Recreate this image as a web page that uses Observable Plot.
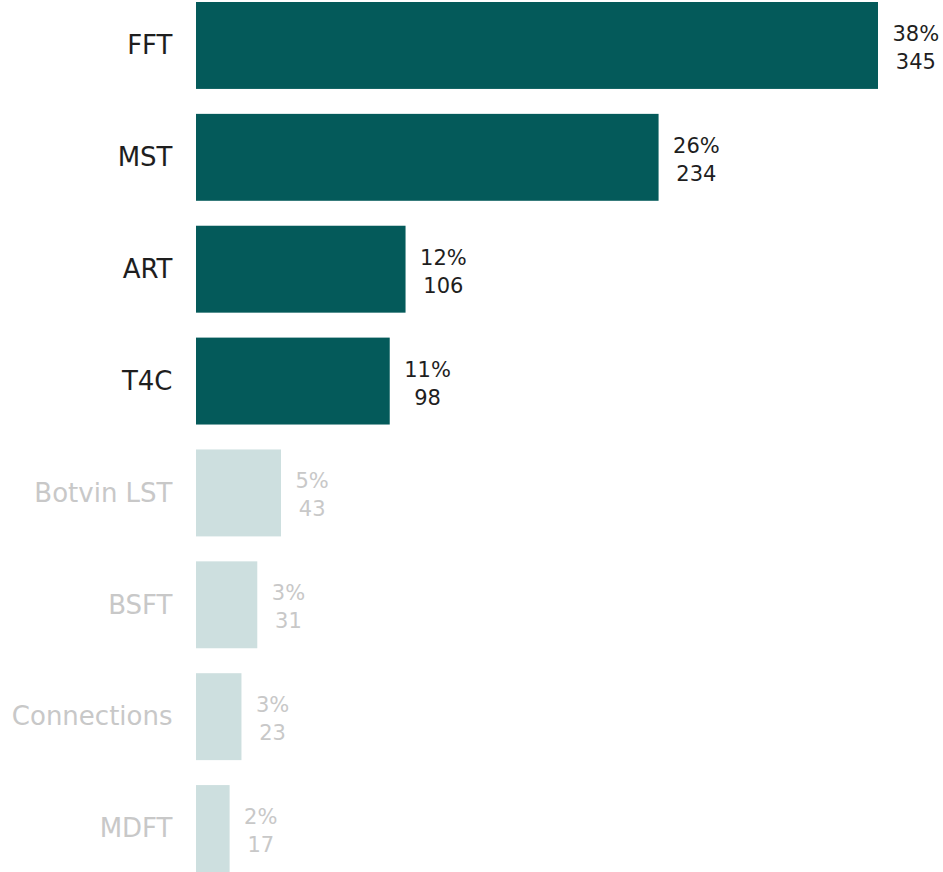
<!DOCTYPE html>
<html>
<head>
<meta charset="utf-8">
<script src="https://cdn.jsdelivr.net/npm/d3@7"></script>
<script src="https://cdn.jsdelivr.net/npm/@observablehq/plot@0.6"></script>
<style>
  html, body { margin: 0; padding: 0; background: #fff; }
  #chart svg { display: block; }
</style>
</head>
<body>
<div id="chart"></div>
<script>
const programs = ["FFT", "MST", "ART", "T4C", "Botvin LST", "BSFT", "Connections", "MDFT"];
const counts   = [345, 234, 106, 98, 43, 31, 23, 17];
const percents = ["38%", "26%", "12%", "11%", "5%", "3%", "3%", "2%"];
const highlighted = [true, true, true, true, false, false, false, false];

const data = programs.map((p, i) => ({
  program: p,
  count: counts[i],
  pct: percents[i],
  hi: highlighted[i],
  label: percents[i] + "\n" + counts[i]
}));

const barDark = "#045a5a", barLight = "#cddfdf";
const textDark = "#1e1e1e", textLight = "#c8c8c8";

const chart = Plot.plot({
  width: 943,
  height: 872,
  marginLeft: 196,
  marginRight: 65,
  marginTop: 2,
  marginBottom: 0,
  style: { fontFamily: "'DejaVu Sans', sans-serif", background: "#fff" },
  x: { domain: [0, 345], axis: null },
  y: { domain: programs, axis: null, paddingInner: 0.223, paddingOuter: 0, round: false },
  marks: [
    Plot.barX(data, {
      y: "program", x: "count",
      fill: d => d.hi ? barDark : barLight
    }),
    Plot.text(data, {
      y: "program", x: 0,
      text: "program",
      textAnchor: "end",
      dx: -24,
      fontSize: 26,
      fill: d => d.hi ? textDark : textLight
    }),
    Plot.text(data, {
      y: "program", x: "count",
      text: "label",
      textAnchor: "start",
      dx: 14,
      fontSize: 21,
      lineHeight: 1.34,
      fill: d => d.hi ? textDark : textLight,
      className: "vlabel"
    })
  ]
});

document.getElementById("chart").appendChild(chart);

// center the two lines of each value label on each other
chart.querySelectorAll(".vlabel text").forEach(t => {
  const spans = t.querySelectorAll("tspan");
  if (spans.length < 2) return;
  const w = Array.from(spans).map(s => s.getComputedTextLength());
  const m = Math.max(...w);
  spans.forEach((s, i) => s.setAttribute("dx", ((m - w[i]) / 2).toFixed(1)));
});
</script>
</body>
</html>
